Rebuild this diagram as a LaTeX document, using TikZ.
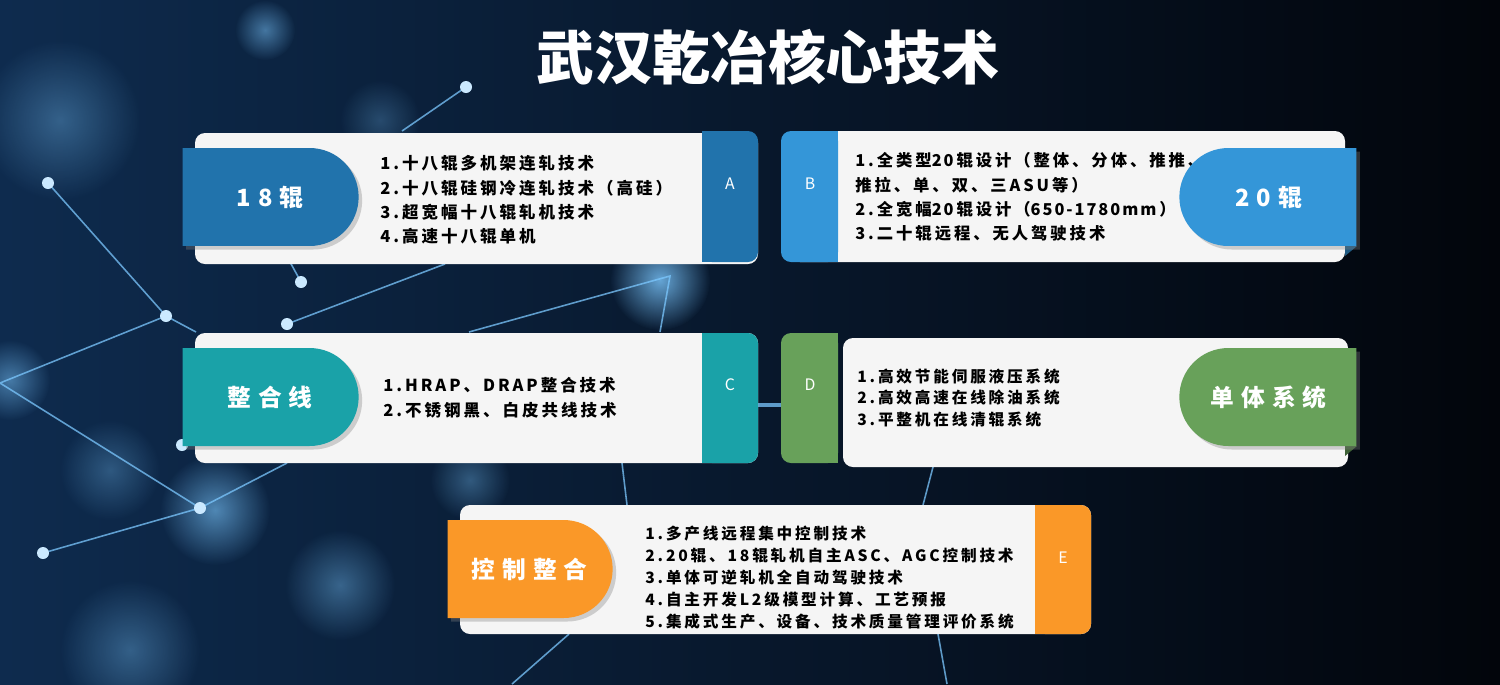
\documentclass[tikz,border=0pt]{standalone}
\usepackage{fontspec}
\usetikzlibrary{shapes.misc,fadings,shadows}
\newfontfamily\cjk{Noto Sans CJK SC}
\newfontfamily\cjkwide[LetterSpace=18]{Noto Sans CJK SC}
\newfontfamily\cjknum[LetterSpace=12]{Noto Sans CJK SC}
\newfontfamily\cjktag[LetterSpace=30]{Noto Sans CJK SC}
\newcommand\numrun[1]{{\cjknum\bfseries #1}\kern1.6pt}
\definecolor{bgleft}{HTML}{0E2B4E}
\definecolor{bgright}{HTML}{02050B}
\definecolor{netblue}{HTML}{7CC8FF}
\definecolor{cardbg}{HTML}{F5F5F5}
\definecolor{colA}{HTML}{2173AC}
\definecolor{colB}{HTML}{3496D8}
\definecolor{colC}{HTML}{1AA2A8}
\definecolor{colD}{HTML}{68A15A}
\definecolor{colE}{HTML}{FA9828}
\tikzfading[name=softglow, inner color=transparent!0, outer color=transparent!100]

\begin{document}
\begin{tikzpicture}[x=0.02cm, y=-0.02cm,
		card/.style={fill=cardbg, rounded corners=0.2cm},
		net/.style={draw=netblue, line width=0.9pt, opacity=.75},
		glow/.style={fill=netblue, path fading=softglow},
		tagbase/.style={rounded rectangle, minimum height=1.96cm, inner sep=0pt, text=white,
			font=\cjktag\bfseries\fontsize{13.5}{16}\selectfont,
			drop shadow={shadow xshift=2pt, shadow yshift=-2pt, opacity=.35}},
		tagL/.style={tagbase, rounded rectangle left arc=none, minimum width=3.52cm},
		tagR/.style={tagbase, rounded rectangle right arc=none, minimum width=3.54cm},
		item/.style={anchor=west, align=left, inner sep=0pt, text=black},
		letter/.style={text=white, inner sep=0pt, font=\cjk\fontsize{9}{10}\selectfont}
		]
		\useasboundingbox (0,0) rectangle (1500,684);
		\clip (0,0) rectangle (1500,684);
		% background
		\shade[left color=bgleft, right color=bgright] (0,0) rectangle (1500,684);
		\foreach \gx/\gy/\gr/\go in {60/120/80/.35, 265/30/30/.5, 660/280/50/.8, 215/510/55/.6,
			340/585/55/.4, 130/650/70/.35, 470/480/40/.35, 10/380/40/.5, 110/470/50/.3, 380/120/40/.25}
		\fill[glow, opacity=\go] (\gx,\gy) circle (\gr);
		
		% network
		\coordinate (n1) at (466,87);
		\coordinate (n2) at (48,183);
		\coordinate (n3) at (166,316);
		\coordinate (n4) at (0,383);
		\coordinate (n5) at (200,508);
		\coordinate (n6) at (43,553);
		\coordinate (n7) at (301,282);
		\coordinate (n8) at (670,276);
		\coordinate (n9) at (287,324);
		\coordinate (n10) at (182,445);
		\draw[net] (n1) -- (402,131);
		\draw[net] (n2) -- (n3) -- (n4) -- (n5) -- (287,463);
		\draw[net] (n3) -- (196,332);
		\draw[net] (n6) -- (n5);
		\draw[net] (n9) -- (445,264);
		\draw[net] (469,332) -- (n8) -- (660,332);
		\draw[net] (n7) -- (290,262);
		\draw[net] (622,463) -- (627,505);
		\draw[net] (933,467) -- (923,505);
		\draw[net] (938,634) -- (947,684);
		\draw[net] (569,634) -- (512,684);
		\draw[net, line width=2pt] (758,405) -- (781,405);
		\foreach \n in {n1,n2,n3,n5,n6,n7,n9,n10}
		\fill[white!60!netblue] (\n) circle (6);
		
		% title
		\node[text=white, font=\cjk\bfseries\fontsize{33}{36}\selectfont] (title) at (768,57) {武汉乾冶核心技术};
		
		% card A
		\fill[card] (195,133) rectangle (758,264);
		\fill[colA, rounded corners=0.2cm] (702,131) rectangle (758,262);
		\fill[colA] (702,131) rectangle (730,262);
		\node[item, font=\cjkwide\bfseries\fontsize{9.4}{13.9}\selectfont] (txtA) at (380,200)
		{1.十八辊多机架连轧技术\\2.十八辊硅钢冷连轧技术（高硅）\\3.超宽幅十八辊轧机技术\\4.高速十八辊单机};
		\node[tagL, fill=colA] (tagA) at (270,197) {18辊};
		\node[letter] (letA) at (730,184) {A};
		
		% card B
		\fill[card] (790,131) rectangle (1345,262);
		\fill[colB, rounded corners=0.2cm] (781,131) rectangle (838,262);
		\fill[colB] (810,131) rectangle (838,262);
		\node[item, font=\cjkwide\bfseries\fontsize{9.3}{13.9}\selectfont] (txtB) at (855,197)
		{1.全类型\numrun{20}辊设计（整体、分体、推推、\\推拉、单、双、三ASU等）\\2.全宽幅\numrun{20}辊设计（\numrun{650-1780mm}）\\3.二十辊远程、无人驾驶技术};
		\fill[colB!60!black] (1345,246) -- (1357,246) -- (1345,256) -- cycle;
		\node[tagR, fill=colB] (tagB) at (1268.5,197) {20辊};
		\node[letter] (letB) at (810,184) {B};
		
		% card C
		\fill[card] (195,333) rectangle (758,463);
		\fill[colC, rounded corners=0.2cm] (702,333) rectangle (758,463);
		\fill[colC] (702,333) rectangle (730,463);
		\node[item, font=\cjkwide\bfseries\fontsize{9.4}{14.2}\selectfont] (txtC) at (383,398)
		{1.HRAP、DRAP整合技术\\2.不锈钢黑、白皮共线技术};
		\node[tagL, fill=colC] (tagC) at (270,397) {整合线};
		\node[letter] (letC) at (730,385) {C};
		
		% card D
		\fill[card] (843,338) rectangle (1348,467);
		\fill[colD, rounded corners=0.2cm] (781,333) rectangle (838,463);
		\fill[colD] (810,333) rectangle (838,463);
		\node[item, font=\cjkwide\bfseries\fontsize{8.9}{12.5}\selectfont] (txtD) at (857,398)
		{1.高效节能伺服液压系统\\2.高效高速在线除油系统\\3.平整机在线清辊系统};
		\fill[colD!60!black] (1345,446) -- (1357,446) -- (1345,456) -- cycle;
		\node[tagR, fill=colD] (tagD) at (1268.5,397) {单体系统};
		\node[letter] (letD) at (810,385) {D};
		
		% card E
		\fill[card] (460,505) rectangle (1091,634);
		\fill[colE, rounded corners=0.2cm] (1035,505) rectangle (1091,634);
		\fill[colE] (1035,505) rectangle (1063,634);
		\node[item, font=\cjkwide\bfseries\fontsize{8.9}{12.5}\selectfont] (txtE) at (645,578)
		{1.多产线远程集中控制技术\\2.20辊、18辊轧机自主ASC、AGC控制技术\\3.单体可逆轧机全自动驾驶技术\\4.自主开发L2级模型计算、工艺预报\\5.集成式生产、设备、技术质量管理评价系统};
		\node[tagL, fill=colE, minimum width=3.3cm] (tagE) at (529.5,569) {控制整合};
		\node[letter] (letE) at (1063,558) {E};
	\end{tikzpicture}
\end{document}
